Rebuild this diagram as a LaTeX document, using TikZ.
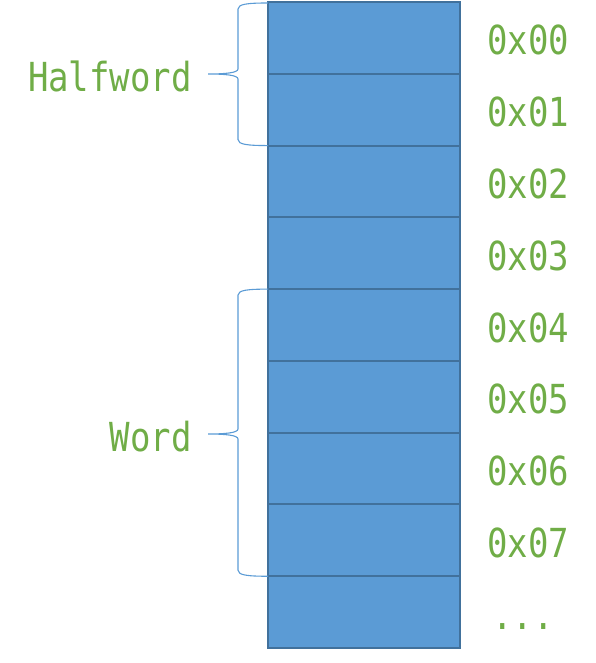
\documentclass[tikz,border=0pt]{standalone}
\usepackage{fontspec}
\newfontfamily\labfont[FakeStretch=0.85]{DejaVu Sans Mono}
\definecolor{cellfill}{HTML}{5B9BD5}
\definecolor{celldraw}{HTML}{41719C}
\definecolor{labgreen}{HTML}{70AD47}
\definecolor{bracecol}{HTML}{5B9BD5}
\tikzset{
  cell/.style={draw=celldraw, fill=cellfill, line width=2pt, minimum width=192pt, minimum height=71.78pt, inner sep=0pt, outer sep=0pt, anchor=north west},
  lab/.style={text=labgreen, font=\labfont\fontsize{40}{40}\selectfont, inner sep=0pt},
  brc/.style={draw=bracecol, line width=1.1pt}
}
\newcommand\bracepath[3]{%
  \draw[brc] (#1) .. controls ([shift={(-20,0)}]#1) and ([shift={(-30,1)}]#1) .. ([shift={(-30,6)}]#1)
    -- ([shift={(30,-5)}]#2) .. controls ([shift={(30,-1)}]#2) and ([shift={(16,0)}]#2) .. (#2)
    .. controls ([shift={(16,0)}]#2) and ([shift={(30,1)}]#2) .. ([shift={(30,5)}]#2)
    -- ([shift={(-30,-6)}]#3) .. controls ([shift={(-30,-1)}]#3) and ([shift={(-20,0)}]#3) .. (#3);
}
\begin{document}
\begin{tikzpicture}[x=1pt,y=-1pt]
\useasboundingbox (0,0) rectangle (596,663);
\foreach \i in {0,...,8} {
  \node[cell] (r\i) at (268, {2+71.78*\i}) {};
}
\foreach \i in {0,...,7} {
  \node[lab, anchor=base west] (a\i) at (487, {2+71.78*\i+53}) {0x0\i};
}
\node[lab, anchor=base] (dots) at (523, 629) {...};
\node[lab, anchor=base east] (hw) at (192, 92) {Halfword};
\node[lab, anchor=base east] (wd) at (192, 451) {Word};
\coordinate (ht) at ([yshift=-1pt]r0.north west);
\coordinate (hm) at (208, 74);
\coordinate (hb) at (r1.south west);
\coordinate (wt) at (r4.north west);
\coordinate (wm) at (208, 434);
\coordinate (wb) at (r7.south west);
\bracepath{ht}{hm}{hb}
\bracepath{wt}{wm}{wb}
\end{tikzpicture}
\end{document}
